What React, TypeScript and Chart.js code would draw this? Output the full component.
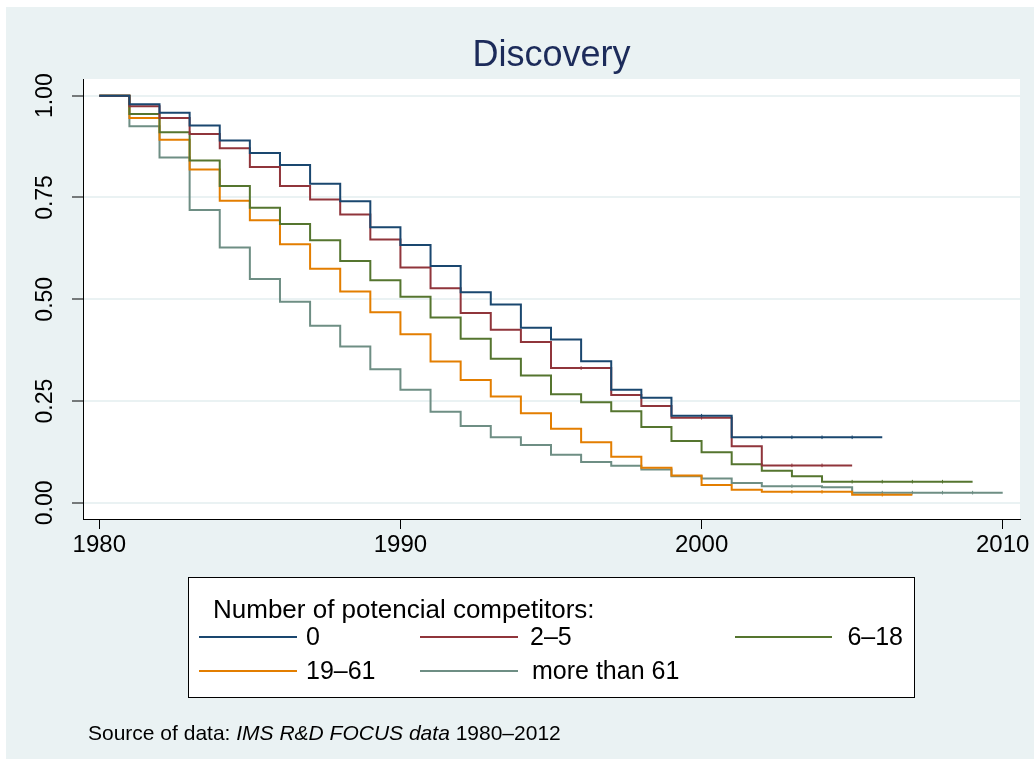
import { useEffect, useRef } from "react";
import { Chart, registerables } from "chart.js";

Chart.register(...registerables);

// Years of follow-up (each survival level holds from its year to the next one)
const YEARS = [
  1980, 1981, 1982, 1983, 1984, 1985, 1986, 1987, 1988, 1989, 1990,
  1991, 1992, 1993, 1994, 1995, 1996, 1997, 1998, 1999, 2000,
  2001, 2002, 2003, 2004, 2005, 2006, 2007, 2008, 2009, 2010,
];

const X_TICKS = [1980, 1990, 2000, 2010];
const Y_TICKS = [0, 0.25, 0.5, 0.75, 1];

// Kaplan-Meier survival in the discovery phase, by number of potential competitors
const SURV_0 = [
  1.0, 0.979, 0.958, 0.927, 0.89, 0.859, 0.83, 0.784, 0.741, 0.677, 0.633,
  0.582, 0.517, 0.487, 0.43, 0.401, 0.348, 0.278, 0.258, 0.214, 0.214,
  0.161, 0.161, 0.161, 0.161, 0.161, 0.161,
];
const SURV_2_5 = [
  1.0, 0.974, 0.945, 0.906, 0.871, 0.825, 0.778, 0.745, 0.708, 0.647, 0.578,
  0.527, 0.466, 0.425, 0.395, 0.331, 0.331, 0.265, 0.238, 0.209, 0.209,
  0.139, 0.092, 0.092, 0.092, 0.092,
];
const SURV_6_18 = [
  1.0, 0.955, 0.91, 0.841, 0.778, 0.725, 0.685, 0.645, 0.594, 0.547, 0.506,
  0.455, 0.403, 0.354, 0.313, 0.267, 0.247, 0.225, 0.186, 0.152, 0.124,
  0.095, 0.079, 0.065, 0.052, 0.052, 0.052, 0.052, 0.052, 0.052,
];
const SURV_19_61 = [
  1.0, 0.945, 0.892, 0.819, 0.742, 0.694, 0.635, 0.575, 0.519, 0.468, 0.414,
  0.347, 0.302, 0.261, 0.22, 0.182, 0.149, 0.113, 0.086, 0.067, 0.044,
  0.032, 0.027, 0.027, 0.027, 0.02, 0.02, 0.02,
];
const SURV_OVER_61 = [
  1.0, 0.925, 0.848, 0.719, 0.627, 0.55, 0.494, 0.435, 0.384, 0.328, 0.278,
  0.224, 0.189, 0.161, 0.142, 0.118, 0.1, 0.091, 0.082, 0.065, 0.06,
  0.049, 0.041, 0.041, 0.038, 0.025, 0.025, 0.025, 0.025, 0.025, 0.025,
];

const SERIES_VALUES = [SURV_0, SURV_2_5, SURV_6_18, SURV_19_61, SURV_OVER_61];
const SERIES_LABELS = ["0", "2–5", "6–18", "19–61", "more than 61"];
const SERIES_COLORS = ["#1a476f", "#90353b", "#55752f", "#e37e00", "#6e8e84"];

const TITLE = "Discovery";
const LEGEND_TITLE = "Number of potencial competitors:";
const NOTE_PARTS = [
  { text: "Source of data: ", italic: false },
  { text: "IMS R&D FOCUS data", italic: true },
  { text: " 1980–2012", italic: false },
];

const FONT = "'Liberation Sans', Arial, Helvetica, sans-serif";
const BG = "#eaf2f3";

// Legend slots: [line start, line end, text x, row centre y, text align]
const LEGEND_SLOTS: [number, number, number, number, CanvasTextAlign][] = [
  [199, 297, 306, 637, "left"],
  [420, 518, 530, 637, "left"],
  [735, 832, 903, 637, "right"],
  [199, 297, 306, 671, "left"],
  [420, 518, 532, 671, "left"],
];

const decorations = {
  id: "decorations",
  beforeDraw(chart: any) {
    const { ctx, chartArea: a, width, height } = chart;
    ctx.save();
    ctx.fillStyle = "#ffffff";
    ctx.fillRect(0, 0, width, height);
    ctx.fillStyle = BG;
    ctx.fillRect(6, 7, width - 6, height - 7);
    ctx.fillStyle = "#ffffff";
    ctx.fillRect(a.left, a.top, a.right - a.left, a.bottom - a.top);
    ctx.restore();
  },
  afterDraw(chart: any) {
    const { ctx, chartArea: a } = chart;
    ctx.save();

    // Title
    ctx.fillStyle = "#1c2b5a";
    ctx.font = `36px ${FONT}`;
    ctx.textAlign = "center";
    ctx.textBaseline = "alphabetic";
    ctx.fillText(TITLE, (a.left + a.right) / 2, 66);

    // Legend box
    ctx.fillStyle = "#ffffff";
    ctx.fillRect(188.5, 577.5, 726, 120);
    ctx.strokeStyle = "#000000";
    ctx.lineWidth = 1;
    ctx.strokeRect(188.5, 577.5, 726, 120);

    ctx.fillStyle = "#000000";
    ctx.font = `26px ${FONT}`;
    ctx.textAlign = "left";
    ctx.textBaseline = "alphabetic";
    ctx.fillText(LEGEND_TITLE, 213, 618);

    ctx.font = `25px ${FONT}`;
    chart.data.datasets.forEach((ds: any, i: number) => {
      const [x0, x1, tx, cy, align] = LEGEND_SLOTS[i];
      ctx.strokeStyle = ds.borderColor;
      ctx.lineWidth = 2;
      ctx.beginPath();
      ctx.moveTo(x0, cy);
      ctx.lineTo(x1, cy);
      ctx.stroke();
      ctx.fillStyle = "#000000";
      ctx.textAlign = align;
      ctx.textBaseline = "middle";
      ctx.fillText(ds.label, tx, cy + 1);
    });

    // Source note
    let x = 88;
    ctx.textAlign = "left";
    ctx.textBaseline = "alphabetic";
    ctx.fillStyle = "#000000";
    for (const part of NOTE_PARTS) {
      ctx.font = `${part.italic ? "italic " : ""}21px ${FONT}`;
      ctx.fillText(part.text, x, 740);
      x += ctx.measureText(part.text).width;
    }
    ctx.restore();
  },
};

export default function App() {
  const canvasRef = useRef<HTMLCanvasElement | null>(null);

  useEffect(() => {
    const canvas = canvasRef.current;
    if (!canvas) return;

    const datasets = SERIES_VALUES.map((vals, k) => ({
      label: SERIES_LABELS[k],
      data: vals.map((v, i) => ({ x: YEARS[i], y: v })),
      borderColor: SERIES_COLORS[k],
      backgroundColor: SERIES_COLORS[k],
      borderWidth: 2,
      stepped: true as const,
      fill: false,
      pointStyle: "line" as const,
      pointRotation: 90,
      // small censoring marks where the curve stays flat
      pointRadius: vals.map((v, i) =>
        i > 0 && i < vals.length - 1 && v === vals[i - 1] ? 1.8 : 0
      ),
      pointBorderWidth: 1,
      pointBorderColor: SERIES_COLORS[k],
      pointHoverRadius: 0,
    }));

    const chart = new Chart(canvas, {
      type: "line",
      data: { datasets },
      options: {
        responsive: false,
        animation: false,
        events: [],
        layout: { padding: { left: 0, top: 79, right: 14, bottom: 200 } },
        plugins: {
          legend: { display: false },
          title: { display: false },
          tooltip: { enabled: false },
        },
        scales: {
          x: {
            type: "linear",
            min: 1979.459,
            max: 2010.574,
            afterBuildTicks: (scale: any) => {
              scale.ticks = X_TICKS.map((v) => ({ value: v }));
            },
            afterFit: (scale: any) => {
              scale.height = 40;
              scale.paddingLeft = 0;
              scale.paddingRight = 0;
            },
            grid: {
              drawOnChartArea: false,
              drawTicks: true,
              tickLength: 10,
              tickColor: "#000000",
              tickWidth: 1,
            },
            border: { display: true, color: "#000000", width: 1 },
            ticks: {
              color: "#000000",
              font: { size: 24, family: FONT },
              padding: 2,
              maxRotation: 0,
              minRotation: 0,
              callback: (v: any) => String(v),
            },
          },
          y: {
            type: "linear",
            min: -0.0397,
            max: 1.041,
            afterBuildTicks: (scale: any) => {
              scale.ticks = Y_TICKS.map((v) => ({ value: v }));
            },
            afterFit: (scale: any) => {
              scale.width = 83;
              scale.paddingTop = 0;
              scale.paddingBottom = 0;
            },
            grid: {
              color: BG,
              lineWidth: 2,
              drawTicks: true,
              tickLength: 11,
              tickColor: "#000000",
              tickWidth: 1,
            },
            border: { display: true, color: "#000000", width: 1 },
            ticks: {
              color: "#000000",
              font: { size: 23, family: FONT },
              padding: 4,
              crossAlign: "center",
              minRotation: 90,
              maxRotation: 90,
              callback: (v: any) => Number(v).toFixed(2),
            },
          },
        },
      },
      plugins: [decorations],
    });

    return () => chart.destroy();
  }, []);

  return (
    <div style={{ position: "absolute", left: 0, top: 0, width: 1034, height: 759 }}>
      <canvas
        ref={canvasRef}
        width={1034}
        height={759}
        style={{ display: "block", width: 1034, height: 759 }}
      />
    </div>
  );
}
